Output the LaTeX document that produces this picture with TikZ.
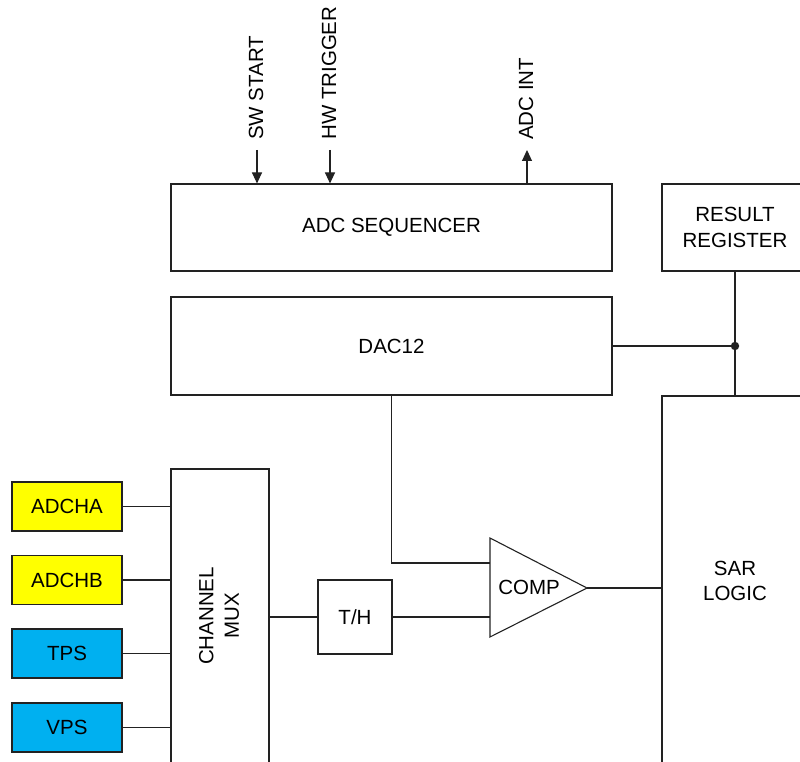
\documentclass[tikz,border=0pt]{standalone}
\usepackage{fontspec}
\setmainfont{Liberation Sans}
\usetikzlibrary{arrows.meta}
\definecolor{chyellow}{HTML}{FFFF00}
\definecolor{chblue}{HTML}{00B0F0}
\definecolor{linegray}{HTML}{222222}
\tikzset{
  blk/.style={draw=linegray, line width=1.1pt, fill=white, inner sep=0pt, align=center,
    font=\fontsize{20.5}{25.5}\selectfont},
  inbox/.style={blk, minimum width=110pt, minimum height=49pt},
  wire/.style={draw=linegray, line width=1.1pt},
  sig/.style={wire, -{Triangle[length=11pt,width=10pt]}},
  lbl/.style={rotate=90, anchor=west, inner sep=0pt, font=\fontsize{20.5}{25.5}\selectfont}
}
\begin{document}
\begin{tikzpicture}[x=1pt,y=-1pt]
\useasboundingbox (0,0) rectangle (800,762);
\clip (0,0) rectangle (800,762);

% main blocks
\node[blk, minimum width=441pt, minimum height=87pt] (seq) at (391.5,227.5) {ADC SEQUENCER};
\node[blk, minimum width=146pt, minimum height=87pt] (res) at (735,227.5) {RESULT\\REGISTER};
\node[blk, minimum width=441pt, minimum height=98pt] (dac) at (391.5,346) {DAC12};
\node[blk, minimum width=146pt, minimum height=370pt] (sar) at (735,581) {SAR\\LOGIC};
\node[blk, minimum width=98pt, minimum height=296pt] (mux) at (220,617) {};
\node[rotate=90, align=center, inner sep=0pt, font=\fontsize{20.5}{25.5}\selectfont] (muxlbl) at (219,616) {CHANNEL\\MUX};
\node[blk, minimum width=74pt, minimum height=74pt] (th) at (355,617) {T/H};

% input boxes
\node[inbox, fill=chyellow] (cha) at (67,506.5) {ADCHA};
\node[inbox, fill=chyellow] (chb) at (67,580) {ADCHB};
\node[inbox, fill=chblue] (tps) at (67,653.5) {TPS};
\node[inbox, fill=chblue] (vps) at (67,727.5) {VPS};

% comparator
\coordinate (ctop) at (490,538);
\coordinate (cbot) at (490,637);
\coordinate (cout) at (587,588);
\coordinate (cin1) at (490,563);
\coordinate (cin2) at (490,617);
\draw[wire, line join=miter] (ctop) -- (cout) -- (cbot) -- cycle;
\node[inner sep=0pt, font=\fontsize{20.5}{25.5}\selectfont] (comp) at (529,587) {COMP};

% connectors
\draw[wire] (cha.east) -- (cha.east -| mux.west);
\draw[wire] (chb.east) -- (chb.east -| mux.west);
\draw[wire] (tps.east) -- (tps.east -| mux.west);
\draw[wire] (vps.east) -- (vps.east -| mux.west);
\draw[wire] (th.west -| mux.east) -- (th.west);
\draw[wire] (th.east) -- (th.east -| cin2);
\draw[wire] (dac.south) |- (cin1);
\draw[wire] (cout) -- (cout -| sar.west);
\coordinate (jn) at (dac.east -| res.south);
\draw[wire] (dac.east) -- (jn);
\draw[wire] (res.south) -- (sar.north);
\fill[linegray] (jn) circle (4.2pt);

% top signals
\coordinate (sw) at (257,150);
\coordinate (hw) at (330,150);
\coordinate (int) at (527,150);
\draw[sig] (sw) -- (sw |- seq.north);
\draw[sig] (hw) -- (hw |- seq.north);
\draw[sig] (int |- seq.north) -- (int);
\node[lbl] (swl) at (256,140) {SW START};
\node[lbl] (hwl) at (329,140) {HW TRIGGER};
\node[lbl] (intl) at (526,140) {ADC INT};
\end{tikzpicture}
\end{document}
